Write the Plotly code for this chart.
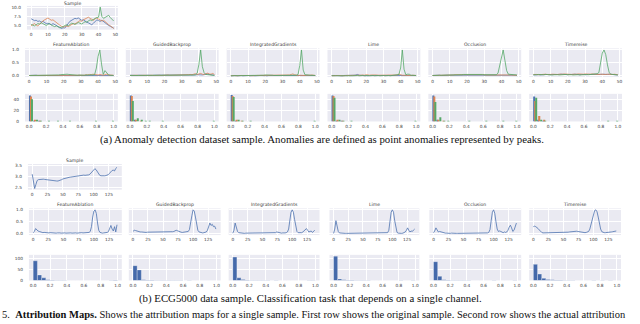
import plotly.graph_objects as go

W, H = 640, 324

# ---------------- data: section (a) anomaly detection ----------------
methods = ["FeatureAblation", "GuidedBackprop", "IntegratedGradients", "Lime", "Occlusion", "Timereise"]
series_colors = ["#4C72B0", "#DD8452", "#55A868"]

a_sample_blue = [6.9,6.6,6.4,6.5,6.2,6.3,6.0,6.2,5.9,5.6, 5.7,5.5,5.3,5.6,5.4,5.0,4.8,4.6,4.3,4.5,
                 4.4,4.9,5.6,6.2,6.5,6.8,7.0,6.9,7.1,6.8, 6.5,6.6,6.2,6.0,5.8,5.6,5.3,5.7,6.3,6.6,
                 6.4,6.2,6.5,6.1,5.8,5.5,5.1,4.9,4.6,4.4]
a_sample_orange = [5.0,5.3,5.6,5.2,5.0,5.4,5.9,6.3,6.6,6.9, 7.1,6.8,6.5,6.6,6.2,5.9,5.5,5.2,4.9,4.7,
                   4.8,5.0,4.8,5.1,5.3,5.6,5.5,5.9,6.1,6.4, 6.2,6.6,6.9,7.2,7.3,7.0,6.8,6.5,6.9,7.1,
                   6.8,6.6,6.3,6.5,6.0,5.7,5.3,5.0,4.6,4.3]
a_sample_green = [5.4,5.2,5.0,5.3,5.6,5.5,5.8,5.6,5.3,5.1, 5.4,5.6,5.2,5.0,4.8,5.0,4.7,4.5,4.6,4.9,
                  5.1,5.3,5.0,5.4,5.7,5.6,5.4,5.6,5.9,5.7, 5.5,5.8,6.1,6.0,6.3,6.6,6.4,6.8,7.0,7.2,
                  7.3,10.0,7.5,7.0,7.3,7.6,7.8,7.2,6.6,6.3]

a_fa_blue = [0.01,0.02,0.01,0.01,0.02,0.01,0.01,0.01,0.02,0.01, 0.01,0.01,0.02,0.01,0.01,0.02,0.01,0.01,0.01,0.02,
             0.01,0.02,0.01,0.01,0.02,0.01,0.01,0.02,0.01,0.01, 0.02,0.01,0.01,0.02,0.01,0.01,0.02,0.03,0.02,0.01,
             0.02,0.03,0.02,0.01,0.02,0.03,0.02,0.01,0.02,0.01]
a_fa_orange = [0.01,0.01,0.02,0.01,0.01,0.02,0.01,0.02,0.01,0.01, 0.02,0.01,0.01,0.02,0.01,0.01,0.02,0.01,0.02,0.03,
               0.02,0.01,0.02,0.03,0.02,0.01,0.02,0.01,0.02,0.03, 0.02,0.03,0.02,0.04,0.03,0.05,0.04,0.06,0.05,0.04,
               0.03,0.05,0.03,0.02,0.04,0.06,0.03,0.02,0.01,0.02]
a_fa_green = [0.01,0.01,0.01,0.02,0.01,0.01,0.01,0.02,0.01,0.01, 0.01,0.02,0.01,0.01,0.02,0.01,0.02,0.03,0.04,0.05,
              0.04,0.05,0.06,0.05,0.04,0.03,0.04,0.03,0.02,0.03, 0.02,0.03,0.02,0.03,0.02,0.03,0.04,0.03,0.05,0.30,
              0.75,1.00,0.45,0.05,0.20,0.12,0.04,0.02,0.02,0.01]

a_gb_blue = [0.02,0.01,0.02,0.02,0.01,0.02,0.01,0.02,0.02,0.01, 0.02,0.01,0.02,0.01,0.02,0.02,0.01,0.02,0.01,0.02,
             0.02,0.01,0.02,0.03,0.02,0.01,0.02,0.02,0.03,0.02, 0.02,0.03,0.02,0.02,0.03,0.02,0.03,0.02,0.03,0.04,
             0.03,0.04,0.03,0.04,0.05,0.07,0.05,0.03,0.02,0.02]
a_gb_orange = [0.01,0.02,0.01,0.01,0.02,0.01,0.02,0.01,0.01,0.02, 0.01,0.02,0.01,0.02,0.01,0.02,0.03,0.02,0.01,0.02,
               0.03,0.02,0.03,0.02,0.02,0.03,0.02,0.03,0.04,0.03, 0.02,0.03,0.04,0.03,0.04,0.05,0.04,0.06,0.08,0.05,
               0.06,0.09,0.06,0.05,0.08,0.10,0.07,0.06,0.09,0.05]
a_gb_green = [0.01,0.01,0.02,0.01,0.01,0.01,0.02,0.01,0.01,0.02, 0.01,0.01,0.02,0.01,0.01,0.02,0.01,0.02,0.03,0.02,
              0.02,0.03,0.02,0.02,0.03,0.02,0.02,0.03,0.02,0.02, 0.03,0.02,0.02,0.03,0.02,0.03,0.02,0.03,0.04,0.10,
              0.45,1.00,0.35,0.12,0.05,0.04,0.03,0.02,0.02,0.01]

a_ig_blue = [0.00,0.01,0.00,0.01,0.00,0.01,0.01,0.00,0.01,0.00, 0.01,0.00,0.01,0.01,0.00,0.01,0.00,0.01,0.01,0.00,
             0.01,0.00,0.01,0.01,0.00,0.01,0.00,0.01,0.01,0.00, 0.01,0.00,0.01,0.01,0.00,0.01,0.01,0.00,0.01,0.01,
             0.01,0.02,0.01,0.00,0.01,0.01,0.00,0.01,0.00,0.01]
a_ig_orange = [0.00,0.01,0.01,0.00,0.01,0.00,0.01,0.01,0.00,0.01, 0.01,0.00,0.01,0.00,0.01,0.01,0.02,0.01,0.01,0.02,
               0.01,0.02,0.03,0.02,0.01,0.01,0.02,0.01,0.01,0.02, 0.01,0.02,0.01,0.02,0.03,0.05,0.07,0.04,0.02,0.01,
               0.02,0.01,0.02,0.01,0.02,0.01,0.02,0.03,0.02,0.01]
a_ig_green = [0.00,0.00,0.01,0.00,0.00,0.01,0.00,0.00,0.01,0.00, 0.00,0.01,0.00,0.00,0.01,0.00,0.01,0.01,0.02,0.02,
              0.03,0.03,0.04,0.03,0.02,0.01,0.01,0.02,0.01,0.01, 0.01,0.01,0.02,0.01,0.01,0.02,0.01,0.02,0.02,0.05,
              0.40,1.00,0.22,0.04,0.02,0.03,0.02,0.01,0.01,0.01]

a_lime_blue = [0.01,0.00,0.01,0.01,0.00,0.01,0.00,0.01,0.01,0.00, 0.01,0.01,0.02,0.02,0.03,0.05,0.02,0.01,0.01,0.00,
               0.01,0.00,0.01,0.01,0.00,0.01,0.01,0.00,0.01,0.00, 0.01,0.01,0.00,0.01,0.00,0.01,0.01,0.00,0.01,0.01,
               0.00,0.01,0.01,0.00,0.01,0.00,0.01,0.01,0.00,0.01]
a_lime_orange = [0.00,0.01,0.00,0.01,0.01,0.00,0.01,0.00,0.01,0.01, 0.00,0.01,0.01,0.02,0.01,0.01,0.02,0.02,0.03,0.02,
                 0.04,0.02,0.02,0.03,0.03,0.05,0.03,0.02,0.02,0.03, 0.02,0.02,0.03,0.02,0.03,0.04,0.02,0.02,0.03,0.06,
                 0.03,0.02,0.02,0.01,0.02,0.01,0.01,0.02,0.01,0.01]
a_lime_green = [0.00,0.01,0.00,0.00,0.01,0.00,0.00,0.01,0.00,0.00, 0.01,0.00,0.00,0.01,0.00,0.01,0.00,0.01,0.01,0.00,
                0.01,0.01,0.00,0.01,0.01,0.00,0.01,0.01,0.00,0.01, 0.01,0.00,0.01,0.01,0.00,0.01,0.01,0.01,0.02,0.05,
                0.30,1.00,0.25,0.04,0.06,0.06,0.02,0.02,0.01,0.01]

a_occ_blue = [0.01,0.02,0.01,0.02,0.02,0.01,0.02,0.02,0.01,0.02, 0.02,0.02,0.03,0.02,0.02,0.03,0.02,0.03,0.02,0.02,
              0.03,0.02,0.02,0.03,0.02,0.03,0.02,0.02,0.02,0.03, 0.02,0.02,0.03,0.02,0.02,0.03,0.02,0.03,0.03,0.04,
              0.03,0.04,0.03,0.03,0.04,0.03,0.02,0.02,0.02,0.01]
a_occ_orange = [0.01,0.01,0.02,0.02,0.02,0.02,0.03,0.02,0.02,0.03, 0.03,0.03,0.03,0.04,0.04,0.05,0.05,0.04,0.05,0.06,
                0.05,0.05,0.06,0.05,0.05,0.05,0.04,0.05,0.04,0.04, 0.04,0.03,0.03,0.03,0.03,0.04,0.04,0.03,0.04,0.05,
                0.05,0.04,0.04,0.05,0.04,0.03,0.03,0.02,0.02,0.02]
a_occ_green = [0.01,0.02,0.02,0.02,0.02,0.02,0.02,0.02,0.02,0.03, 0.03,0.03,0.03,0.03,0.03,0.04,0.04,0.04,0.05,0.05,
               0.06,0.06,0.07,0.07,0.07,0.06,0.06,0.06,0.05,0.05, 0.04,0.04,0.04,0.04,0.04,0.04,0.04,0.04,0.10,0.40,
               0.80,1.00,0.60,0.20,0.06,0.05,0.04,0.03,0.03,0.03]

a_trs_blue = [0.03,0.04,0.05,0.04,0.03,0.04,0.05,0.06,0.05,0.04, 0.04,0.05,0.04,0.03,0.04,0.05,0.06,0.05,0.04,0.03,
              0.04,0.05,0.04,0.05,0.06,0.05,0.04,0.04,0.05,0.04, 0.03,0.04,0.05,0.05,0.04,0.03,0.04,0.05,0.04,0.05,
              0.06,0.05,0.04,0.05,0.06,0.05,0.04,0.05,0.04,0.03]
a_trs_orange = [0.05,0.06,0.05,0.04,0.05,0.06,0.07,0.06,0.05,0.04, 0.05,0.06,0.05,0.04,0.05,0.06,0.05,0.06,0.07,0.06,
                0.05,0.04,0.05,0.06,0.05,0.06,0.07,0.06,0.05,0.06, 0.07,0.06,0.05,0.06,0.07,0.06,0.05,0.04,0.05,0.06,
                0.05,0.04,0.05,0.06,0.05,0.04,0.05,0.06,0.05,0.04]
a_trs_green = [0.04,0.03,0.04,0.05,0.04,0.03,0.04,0.05,0.04,0.03, 0.04,0.03,0.04,0.05,0.04,0.03,0.04,0.03,0.04,0.05,
               0.04,0.05,0.04,0.03,0.04,0.05,0.04,0.03,0.04,0.05, 0.04,0.05,0.04,0.05,0.04,0.05,0.06,0.08,0.12,0.45,
               0.88,1.00,0.82,0.42,0.12,0.06,0.05,0.04,0.04,0.03]

a_attr = [
    [a_fa_blue, a_fa_orange, a_fa_green],
    [a_gb_blue, a_gb_orange, a_gb_green],
    [a_ig_blue, a_ig_orange, a_ig_green],
    [a_lime_blue, a_lime_orange, a_lime_green],
    [a_occ_blue, a_occ_orange, a_occ_green],
    [a_trs_blue, a_trs_orange, a_trs_green],
]

# histogram counts, 20 bins of width 0.05 over [0, 1]
a_hist = [
    [[48,1,1,0,0,0,0,0,0,0,0,0,0,0,0,0,0,0,0,0],
     [46,3,1,0,0,0,0,0,0,0,0,0,0,0,0,0,0,0,0,0],
     [41,3,1,0,1,0,1,0,0,1,0,0,0,0,0,1,0,0,0,1]],
    [[48,2,0,0,0,0,0,0,0,0,0,0,0,0,0,0,0,0,0,0],
     [47,2,1,0,0,0,0,0,0,0,0,0,0,0,0,0,0,0,0,0],
     [38,6,2,1,1,0,0,1,0,0,0,0,0,0,0,0,0,0,0,1]],
    [[49,1,0,0,0,0,0,0,0,0,0,0,0,0,0,0,0,0,0,0],
     [47,2,1,0,0,0,0,0,0,0,0,0,0,0,0,0,0,0,0,0],
     [45,2,1,0,1,0,0,0,0,0,0,0,0,0,0,0,0,0,0,1]],
    [[48,1,1,0,0,0,0,0,0,0,0,0,0,0,0,0,0,0,0,0],
     [47,2,1,0,0,0,0,0,0,0,0,0,0,0,0,0,0,0,0,0],
     [44,3,1,0,1,0,0,0,0,0,0,0,0,0,0,0,0,0,0,1]],
    [[48,2,0,0,0,0,0,0,0,0,0,0,0,0,0,0,0,0,0,0],
     [46,3,1,0,0,0,0,0,0,0,0,0,0,0,0,0,0,0,0,0],
     [36,8,1,1,0,0,0,0,1,0,0,0,1,0,0,0,1,0,0,1]],
    [[46,3,1,0,0,0,0,0,0,0,0,0,0,0,0,0,0,0,0,0],
     [38,10,2,0,0,0,0,0,0,0,0,0,0,0,0,0,0,0,0,0],
     [44,3,1,0,0,0,0,0,0,0,0,0,0,0,0,0,0,1,0,1]],
]

# ---------------- data: section (b) ECG5000, sampled every 2 steps ----------------
b_step = 2
b_sample = [3.10,2.75,2.47,2.65,2.82,2.86,2.87,2.88,2.87,2.88, 2.87,2.86,2.86,2.85,2.85,2.84,2.84,2.83,2.82,2.81,
            2.80,2.80,2.81,2.83,2.86,2.89,2.91,2.93,2.94,2.95, 2.96,2.97,2.98,2.99,3.00,3.01,3.02,3.03,3.04,3.05,
            3.05,3.05,3.06,3.05,3.05,3.06,3.07,3.10,3.16,3.24, 3.31,3.34,3.30,3.20,3.10,3.05,3.03,3.02,3.03,3.03,
            3.04,3.05,3.08,3.14,3.22,3.26,3.28,3.24,3.35,3.40]

b_fa = [0.05,0.10,0.22,0.15,0.12,0.10,0.08,0.06,0.05,0.06, 0.05,0.04,0.05,0.04,0.05,0.04,0.04,0.05,0.04,0.03,
        0.04,0.05,0.04,0.03,0.04,0.05,0.04,0.03,0.04,0.04, 0.03,0.04,0.03,0.04,0.05,0.04,0.03,0.04,0.03,0.04,
        0.05,0.04,0.04,0.05,0.04,0.05,0.06,0.10,0.30,0.70, 0.95,1.00,0.85,0.45,0.15,0.06,0.04,0.03,0.04,0.05,
        0.04,0.06,0.10,0.20,0.35,0.20,0.12,0.30,0.08,0.38]
b_gb = [0.10,0.15,0.14,0.12,0.10,0.09,0.08,0.08,0.07,0.08, 0.07,0.06,0.07,0.07,0.06,0.07,0.06,0.07,0.06,0.07,
        0.07,0.06,0.07,0.08,0.07,0.08,0.07,0.06,0.07,0.08, 0.07,0.08,0.08,0.09,0.10,0.12,0.15,0.13,0.10,0.08,
        0.07,0.06,0.07,0.06,0.07,0.08,0.10,0.18,0.40,0.75, 1.00,0.95,0.70,0.35,0.15,0.08,0.06,0.05,0.04,0.05,
        0.05,0.08,0.15,0.30,0.45,0.35,0.40,0.30,0.32,0.20]
b_ig = [0.03,0.15,0.45,0.30,0.10,0.05,0.04,0.03,0.03,0.03, 0.02,0.03,0.03,0.02,0.03,0.02,0.02,0.03,0.02,0.03,
        0.02,0.03,0.02,0.02,0.03,0.02,0.03,0.02,0.03,0.02, 0.02,0.03,0.03,0.02,0.03,0.04,0.05,0.08,0.06,0.04,
        0.03,0.03,0.04,0.03,0.04,0.05,0.08,0.20,0.55,0.90, 1.00,0.90,0.60,0.25,0.10,0.05,0.04,0.03,0.05,0.08,
        0.12,0.18,0.22,0.15,0.08,0.10,0.12,0.06,0.10,0.15]
b_lime = [0.02,0.20,0.55,0.35,0.10,0.04,0.03,0.02,0.02,0.02, 0.02,0.02,0.02,0.02,0.02,0.02,0.02,0.02,0.02,0.02,
          0.02,0.02,0.02,0.02,0.02,0.02,0.02,0.02,0.02,0.02, 0.02,0.02,0.02,0.02,0.03,0.02,0.02,0.03,0.02,0.02,
          0.02,0.02,0.02,0.02,0.03,0.03,0.05,0.15,0.50,0.90, 1.00,0.90,0.55,0.20,0.06,0.03,0.02,0.02,0.02,0.03,
          0.05,0.08,0.15,0.25,0.15,0.08,0.12,0.10,0.16,0.20]
b_occ = [0.05,0.12,0.25,0.15,0.08,0.10,0.08,0.06,0.04,0.03, 0.03,0.03,0.02,0.02,0.02,0.03,0.02,0.02,0.02,0.02,
         0.02,0.02,0.02,0.02,0.02,0.02,0.02,0.02,0.02,0.02, 0.02,0.02,0.02,0.02,0.02,0.02,0.03,0.03,0.02,0.02,
         0.02,0.02,0.03,0.03,0.03,0.04,0.06,0.18,0.55,0.90, 1.00,0.85,0.50,0.20,0.10,0.12,0.10,0.07,0.05,0.08,
         0.06,0.08,0.15,0.28,0.36,0.25,0.10,0.15,0.35,0.45]
b_trs = [0.30,0.32,0.30,0.27,0.22,0.16,0.10,0.06,0.04,0.04, 0.05,0.05,0.04,0.04,0.05,0.05,0.05,0.04,0.04,0.05,
         0.05,0.05,0.05,0.05,0.05,0.04,0.04,0.05,0.06,0.07, 0.08,0.09,0.10,0.10,0.11,0.12,0.11,0.10,0.09,0.07,
         0.06,0.05,0.05,0.05,0.06,0.07,0.10,0.20,0.38,0.62, 0.85,0.97,1.00,0.92,0.70,0.42,0.20,0.09,0.05,0.05,
         0.05,0.05,0.05,0.06,0.07,0.08,0.09,0.10,0.11,0.12]
b_attr = [b_fa, b_gb, b_ig, b_lime, b_occ, b_trs]

b_hist = [
    [89,25,12,3,2,1,1,1,0,0,0,0,0,0,0,0,0,0,1,2],
    [67,48,3,2,2,1,1,1,1,1,1,1,0,1,0,0,0,0,0,0],
    [106,12,4,2,1,1,1,1,1,0,1,0,0,0,0,0,0,0,1,1],
    [110,7,3,2,2,1,1,1,1,0,0,0,0,0,0,0,1,0,0,1],
    [85,19,3,2,1,1,1,1,1,0,0,0,0,0,1,0,0,0,0,1],
    [73,29,10,4,3,2,2,1,1,1,0,0,0,0,1,0,1,0,1,0],
]
bin_width = 0.05
bin_lefts = [i * bin_width for i in range(20)]

hist_ticks = [0.0, 0.2, 0.4, 0.6, 0.8, 1.0]
caption_a = "(a) Anomaly detection dataset sample. Anomalies are defined as point anomalies represented by peaks."
caption_b = "(b) ECG5000 data sample. Classification task that depends on a single channel."
caption_fig = ("5.  <b>Attribution Maps.</b> Shows the attribution maps for a single sample. "
               "First row shows the original sample. Second row shows the actual attribution")

# ---------------- layout helpers ----------------
TXT = "#3a3a3a"
TICKF = dict(family="DejaVu Sans", size=4.3, color=TXT)
fig = go.Figure()
layout = {}
annotations = []
counter = [0]


def axes(xpx, ypx, xr, yr, xtv, xtt, ytv, ytt, show_y, title=None, title_y=None):
    counter[0] += 1
    n = counter[0]
    s = "" if n == 1 else str(n)
    common = dict(showgrid=True, gridcolor="white", gridwidth=0.7, zeroline=False,
                  showline=False, ticks="", tickfont=TICKF, fixedrange=True)
    layout["xaxis" + s] = dict(domain=[xpx[0] / W, xpx[1] / W], range=xr, anchor="y" + s,
                               tickvals=xtv, ticktext=xtt, ticklabelstandoff=1, **common)
    layout["yaxis" + s] = dict(domain=[1 - ypx[1] / H, 1 - ypx[0] / H], range=yr, anchor="x" + s,
                               tickvals=ytv, ticktext=ytt if show_y else [""] * len(ytv),
                               ticklabelstandoff=5, **common)
    if title:
        ty = title_y if title_y is not None else ypx[0] - 3.5
        annotations.append(dict(text=title, x=(xpx[0] + xpx[1]) / 2 / W, y=1 - ty / H,
                                xref="paper", yref="paper", xanchor="center", yanchor="middle",
                                showarrow=False, font=dict(family="DejaVu Sans", size=4.6, color=TXT)))
    return "x" + s, "y" + s


def line(xa, ya, xs, ys, color):
    fig.add_trace(go.Scatter(x=xs, y=ys, xaxis=xa, yaxis=ya, mode="lines",
                             line=dict(color=color, width=0.8), showlegend=False, hoverinfo="skip"))


# ---------------- section (a) ----------------
cols_a = [(25, 118), (126, 219), (227, 320), (328, 421), (429, 522), (530, 623)]
xa_n = list(range(len(a_sample_blue)))
x_ticks_a = [0, 10, 20, 30, 40, 50]
xr_a = [-2.45, 51.45]

xa, ya = axes((27, 118), (5, 29), xr_a, [4.0, 10.3], x_ticks_a, [str(v) for v in x_ticks_a],
              [5.0, 7.5, 10.0], ["5.0", "7.5", "10.0"], True, "Sample", title_y=3)
for ys, c in zip([a_sample_blue, a_sample_orange, a_sample_green], series_colors):
    line(xa, ya, xa_n, ys, c)

for i, m in enumerate(methods):
    xa, ya = axes(cols_a[i], (48, 77), xr_a, [-0.05, 1.06], x_ticks_a, [str(v) for v in x_ticks_a],
                  [0, 0.5, 1.0], ["0.0", "0.5", "1.0"], i == 0, m)
    for ys, c in zip(a_attr[i], series_colors):
        line(xa, ya, xa_n, ys, c)

sub_w = bin_width * 0.8 / 3
for i, m in enumerate(methods):
    xa, ya = axes(cols_a[i], (94, 122), [-0.05, 1.05], [0, 51], hist_ticks,
                  ["%.1f" % v for v in hist_ticks], [0, 20, 40], ["0", "20", "40"], i == 0)
    for k, (cnt, c) in enumerate(zip(a_hist[i], series_colors)):
        fig.add_trace(go.Bar(x=bin_lefts, y=cnt, xaxis=xa, yaxis=ya, width=sub_w,
                             offset=bin_width * 0.1 + k * sub_w, marker=dict(color=c, line=dict(width=0)),
                             showlegend=False, hoverinfo="skip"))

# ---------------- section (b) ----------------
cols_b = [(29, 122), (129, 221), (229, 320), (330, 420), (430, 522), (530, 622)]
xb_n = [i * b_step for i in range(len(b_sample))]
x_ticks_b = [0, 25, 50, 75, 100, 125]
xr_b = [-6.95, 145.95]
blue = series_colors[0]

xa, ya = axes((28, 122), (165, 191), xr_b, [2.42, 3.55], x_ticks_b, [str(v) for v in x_ticks_b],
              [2.5, 3.0, 3.5], ["2.5", "3.0", "3.5"], True, "Sample")
line(xa, ya, xb_n, b_sample, blue)

for i, m in enumerate(methods):
    xa, ya = axes(cols_b[i], (210, 237), xr_b, [-0.05, 1.06], x_ticks_b, [str(v) for v in x_ticks_b],
                  [0, 0.5, 1.0], ["0.0", "0.5", "1.0"], i == 0, m)
    line(xa, ya, xb_n, b_attr[i], blue)

for i, m in enumerate(methods):
    xa, ya = axes(cols_b[i], (257, 283), [-0.05, 1.05], [0, 116], hist_ticks,
                  ["%.1f" % v for v in hist_ticks], [0, 50, 100], ["0", "50", "100"], i == 0)
    fig.add_trace(go.Bar(x=bin_lefts, y=b_hist[i], xaxis=xa, yaxis=ya, width=bin_width, offset=0,
                         marker=dict(color="#4469AA", line=dict(color="white", width=0.3)),
                         showlegend=False, hoverinfo="skip"))

# ---------------- captions ----------------
serif = dict(family="Liberation Serif", size=10.8, color="#111111")
annotations.append(dict(text=caption_a, x=323 / W, y=1 - 140 / H, xref="paper", yref="paper",
                        xanchor="center", yanchor="middle", showarrow=False, font=serif))
annotations.append(dict(text=caption_b, x=311 / W, y=1 - 301 / H, xref="paper", yref="paper",
                        xanchor="center", yanchor="middle", showarrow=False, font=serif))
annotations.append(dict(text=caption_fig, x=0.0, y=1 - 317.5 / H, xref="paper", yref="paper",
                        xanchor="left", yanchor="middle", showarrow=False,
                        font=dict(family="Liberation Serif", size=10.5, color="#111111")))

fig.update_layout(
    width=W, height=H, margin=dict(l=0, r=0, t=0, b=0),
    paper_bgcolor="white", plot_bgcolor="#EAEAF2",
    barmode="overlay", annotations=annotations, showlegend=False,
    **layout,
)
fig.write_html("out.html", config={"displayModeBar": False},
               post_script="document.body.style.margin='0';document.body.style.padding='0';")
